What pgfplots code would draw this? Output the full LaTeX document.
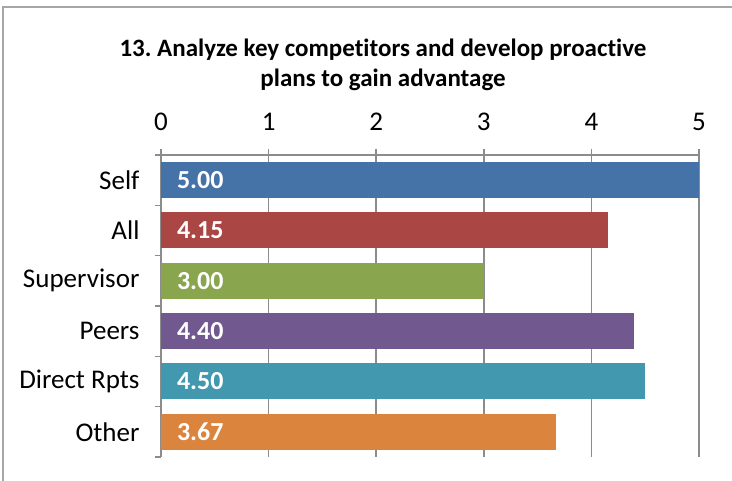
\documentclass[border=0pt]{standalone}
\usepackage{fontspec}
\setmainfont{Carlito}[Ligatures=NoCommon]
\usepackage{pgfplots}
\pgfplotsset{compat=1.18}
\definecolor{cSelf}{HTML}{4572A7}
\definecolor{cAll}{HTML}{AA4643}
\definecolor{cSup}{HTML}{89A54E}
\definecolor{cPeer}{HTML}{71588F}
\definecolor{cDir}{HTML}{4198AF}
\definecolor{cOth}{HTML}{DB843D}
\definecolor{gridc}{HTML}{8C8C8C}
\definecolor{framec}{HTML}{A6A6A6}
\frenchspacing
\begin{document}
\begin{tikzpicture}
\useasboundingbox (0,0) rectangle (732pt,481pt);
\draw[color=framec, line width=2pt] (3pt,0pt) -- (3pt,474pt) -- (732pt,474pt);
\node[font=\bfseries\fontsize{25}{30}\selectfont, align=center] at (383pt,416pt) {13. Analyze key competitors and develop proactive\\plans to gain advantage};
\begin{axis}[
  at={(161pt,24pt)}, anchor=south west, scale only axis,
  width=538pt, height=302pt,
  xmin=0, xmax=5, ymin=-0.5, ymax=5.5,
  axis x line=top, axis y line=left,
  axis line style={draw=gridc, line width=1.5pt, -},
  tick align=outside,
  major tick length=6pt,
  xtick={0,1,2,3,4,5},
  xtick style={draw=gridc, line width=1.5pt},
  xmajorgrids,
  grid style={draw=gridc, line width=1.5pt},
  ytick={0,1,2,3,4,5},
  yticklabels={Other,Direct Rpts,Peers,Supervisor,All,Self},
  ytick style={draw=none},
  extra y ticks={-0.5,0.5,1.5,2.5,3.5,4.5,5.5},
  extra y tick labels={},
  extra y tick style={ytick style={draw=gridc, line width=1.5pt}, grid=none},
  tick label style={font=\fontsize{27}{30}\selectfont},
  /pgf/number format/assume math mode=true,
  xticklabel style={yshift=15pt},
  yticklabel style={xshift=-12pt},
  clip=false,
]
\addplot[xbar, bar width=36pt, bar shift=0pt, fill=cSelf, draw=none] coordinates {(5.00,5)};
\addplot[xbar, bar width=36pt, bar shift=0pt, fill=cAll, draw=none] coordinates {(4.15,4)};
\addplot[xbar, bar width=36pt, bar shift=0pt, fill=cSup, draw=none] coordinates {(3.00,3)};
\addplot[xbar, bar width=36pt, bar shift=0pt, fill=cPeer, draw=none] coordinates {(4.40,2)};
\addplot[xbar, bar width=36pt, bar shift=0pt, fill=cDir, draw=none] coordinates {(4.50,1)};
\addplot[xbar, bar width=36pt, bar shift=0pt, fill=cOth, draw=none] coordinates {(3.67,0)};
\addplot[draw=none, mark=none, nodes near coords, point meta=explicit symbolic,
  every node near coord/.style={anchor=west, text=white, font=\bfseries\fontsize{26}{30}\selectfont, xshift=12.5pt}]
  coordinates {(0,5)[5.00] (0,4)[4.15] (0,3)[3.00] (0,2)[4.40] (0,1)[4.50] (0,0)[3.67]};
\end{axis}
\end{tikzpicture}
\end{document}
